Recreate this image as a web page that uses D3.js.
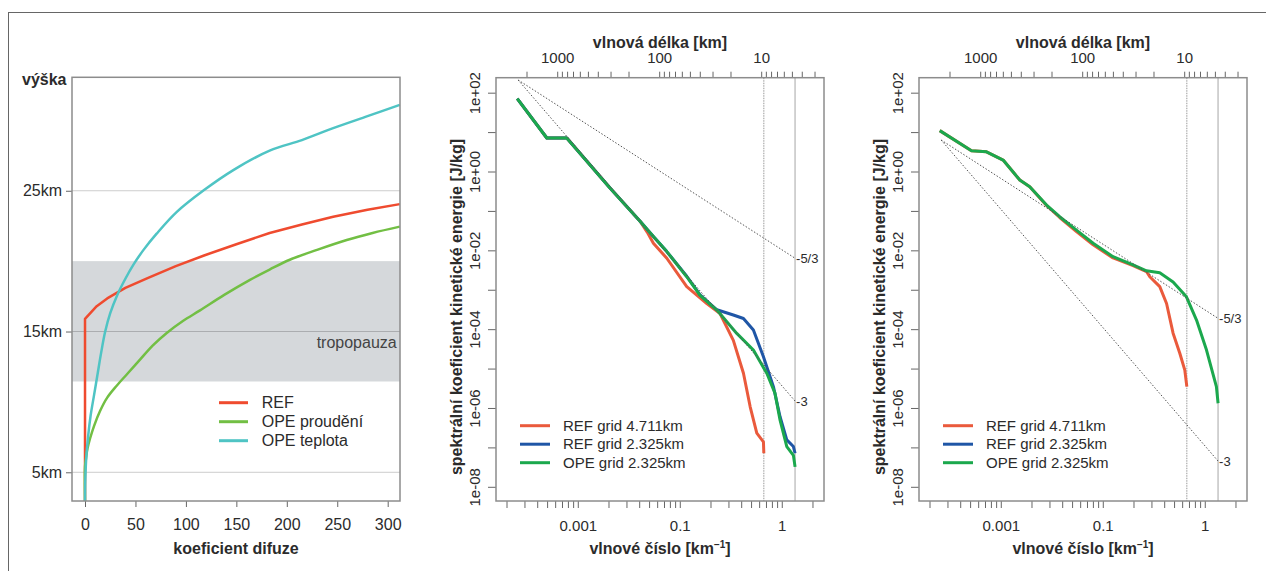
<!DOCTYPE html>
<html>
<head>
<meta charset="utf-8">
<script src="https://cdnjs.cloudflare.com/ajax/libs/d3/7.8.5/d3.min.js"></script>
<style>
body { margin: 0; background: #fff; }
svg { display: block; font-family: "Liberation Sans", Arial, sans-serif; }
text { fill: #2b2b2b; }
</style>
</head>
<body>
<svg width="1266" height="571"></svg>
<script>
// ---- left panel data: [koeficient difuze, vyska km]
var diffTicks = [0, 50, 100, 150, 200, 250, 300];
var heightTicks = [5, 15, 25];
var tropopause = [11.45, 20];

var refDiff = [[0, 2.96], [0, 15.9], [11.6, 16.8], [22, 17.35], [40, 18.1], [62, 18.8], [90, 19.65],
  [118, 20.4], [150, 21.2], [183, 22.0], [215, 22.6], [246, 23.15], [280, 23.65], [312, 24.05]];
var opeFlow = [[0, 2.96], [0, 5.4], [1, 6.0], [2.5, 6.7], [5, 7.4], [9, 8.3], [14.9, 9.35], [22, 10.3],
  [31.4, 11.15], [42, 12.0], [54.5, 13.0], [67, 14.0], [81, 14.9], [97, 15.75], [114, 16.5], [138, 17.6],
  [163.5, 18.67], [183, 19.4], [203, 20.1], [230, 20.8], [259.4, 21.5], [285, 22.0], [312, 22.45]];
var opeTemp = [[0, 2.96], [0.3, 4.5], [1.2, 6], [3, 7.5], [5.5, 9], [9, 10.5], [12.5, 12], [16, 13.5],
  [20, 15], [25, 16.3], [32, 17.6], [40, 18.75], [48, 19.75], [58, 20.8], [71, 21.95], [91, 23.5],
  [118, 25.05], [147, 26.47], [183, 27.85], [215, 28.6], [246, 29.45], [280, 30.3], [312, 31.1]];

// ---- spectra: [vlnove cislo km^-1, energie J/kg]
var kTicks = [0.002, 0.003, 0.004, 0.005, 0.006, 0.007, 0.008, 0.009, 0.01,
  0.02, 0.03, 0.04, 0.05, 0.06, 0.07, 0.08, 0.09, 0.1,
  0.2, 0.3, 0.4, 0.5, 0.6, 0.7, 0.8, 0.9, 1, 2];
var kLabelValues = [0.01, 0.1, 1];
var kLabelText = ["0.001", "0.1", "1"];
var lambdaTicks = [2000, 1000, 900, 800, 700, 600, 500, 400, 300, 200,
  100, 90, 80, 70, 60, 50, 40, 30, 20, 10, 9, 8, 7, 6, 5, 4, 3];
var lambdaLabels = [1000, 100, 10];
var eTicks = [1e2, 1e1, 1e0, 1e-1, 1e-2, 1e-3, 1e-4, 1e-5, 1e-6, 1e-7, 1e-8];
var eLabels = ["1e+02", "", "1e+00", "", "1e-02", "", "1e-04", "", "1e-06", "", "1e-08"];
var gridCutoffs = [0.667, 1.35];
var seriesNames = ["REF grid 4.711km", "REF grid 2.325km", "OPE grid 2.325km"];

var midRef471 = [[0.00255, 70.5], [0.00497, 7.08], [0.0078, 7.08], [0.0207, 0.38], [0.0408, 0.055],
  [0.0479, 0.029], [0.0551, 0.0151], [0.0746, 0.0063], [0.117, 0.0012], [0.184, 4.47e-4], [0.248, 2.5e-4],
  [0.335, 5.2e-5], [0.421, 7.6e-6], [0.49, 1.07e-6], [0.569, 2.3e-7], [0.661, 1.38e-7], [0.667, 7.1e-8]];
var midRef2325 = [[0.00255, 70.5], [0.00497, 7.08], [0.0078, 7.08], [0.0207, 0.38], [0.0408, 0.055],
  [0.0551, 0.0224], [0.0746, 0.0093], [0.117, 0.0022], [0.158, 7.4e-4], [0.231, 3.1e-4], [0.335, 2.29e-4],
  [0.421, 1.86e-4], [0.527, 9.5e-5], [0.661, 2.0e-5], [0.828, 3.47e-6], [0.962, 6.0e-7], [1.12, 1.55e-7],
  [1.30, 1.05e-7], [1.35, 7.1e-8]];
var midOpe2325 = [[0.00255, 70.5], [0.00497, 7.08], [0.0078, 7.08], [0.0207, 0.38], [0.0408, 0.055],
  [0.0551, 0.0224], [0.0746, 0.0093], [0.117, 0.00214], [0.158, 7.2e-4], [0.231, 3.05e-4], [0.362, 7.8e-5],
  [0.527, 2.95e-5], [0.713, 7.6e-6], [0.859, 2.34e-6], [0.962, 4.9e-7], [1.12, 1.05e-7], [1.30, 6.3e-8],
  [1.35, 3.2e-8]];
var midSlope53 = [[0.0026, 210], [1.35, 0.0063]];
var midSlope3 = [[0.0026, 210], [1.35, 1.5e-6]];

var rightRef471 = [[0.00252, 10.9], [0.00516, 3.37], [0.00724, 3.16], [0.01054, 1.95], [0.01535, 0.608],
  [0.01923, 0.411], [0.0281, 0.138], [0.0378, 0.068], [0.0552, 0.030], [0.0804, 0.0138], [0.126, 0.0064],
  [0.198, 0.0041], [0.268, 0.0029], [0.289, 0.00214], [0.362, 0.0012], [0.422, 4.47e-4], [0.489, 7.9e-5],
  [0.569, 2.45e-5], [0.637, 9.1e-6], [0.667, 3.47e-6]];
var rightRef2325 = [];
var rightOpe2325 = [[0.00252, 10.9], [0.00516, 3.37], [0.00724, 3.16], [0.01054, 1.95], [0.01535, 0.608],
  [0.01923, 0.411], [0.0281, 0.141], [0.0378, 0.0713], [0.0552, 0.0327], [0.0804, 0.0151], [0.126, 0.00692],
  [0.198, 0.00427], [0.268, 0.00302], [0.362, 0.00269], [0.489, 0.00158], [0.661, 6.6e-4], [0.83, 1.7e-4],
  [1.04, 2.95e-5], [1.30, 3.47e-6], [1.35, 1.32e-6]];
var rightSlope53 = [[0.0026, 6.3], [1.35, 1.88e-4]];
var rightSlope3 = [[0.0026, 6.3], [1.35, 4.5e-8]];

var ff = '"Liberation Sans", Arial, sans-serif';
var svg = d3.select("svg");

// frame
svg.append("line").attr("x1", 8).attr("x2", 1266).attr("y1", 12.5).attr("y2", 12.5).attr("stroke", "#666");
svg.append("line").attr("x1", 8.5).attr("x2", 8.5).attr("y1", 12).attr("y2", 571).attr("stroke", "#666");

// ================= left panel =================
var lx = d3.scaleLinear().domain([-12.9, 312.2]).range([72, 400]);
var ly = d3.scaleLinear().domain([2.96, 33.06]).range([501, 77.3]);
var g1 = svg.append("g");

g1.append("rect")
  .attr("x", 72).attr("width", 328)
  .attr("y", ly(tropopause[1]))
  .attr("height", ly(tropopause[0]) - ly(tropopause[1]))
  .attr("fill", "#d5d8db");

g1.selectAll(".grid").data(heightTicks).enter().append("line")
  .attr("x1", 72).attr("x2", 400)
  .attr("y1", function(d) { return ly(d); })
  .attr("y2", function(d) { return ly(d); })
  .attr("stroke", "rgba(0,0,0,0.2)");

g1.append("text")
  .attr("x", 396.7).attr("y", 347.5)
  .attr("text-anchor", "end")
  .attr("font-size", 16)
  .style("fill", "#444")
  .text("tropopauza");

var lineStraight = d3.line()
  .x(function(d) { return lx(d[0]); })
  .y(function(d) { return ly(d[1]); });
var lineSmooth = d3.line()
  .x(function(d) { return lx(d[0]); })
  .y(function(d) { return ly(d[1]); })
  .curve(d3.curveCatmullRom.alpha(0.5));
var leftSeries = [
  {data: refDiff, color: "#ef4b2f", name: "REF"},
  {data: opeFlow, color: "#72bf44", name: "OPE proudění"},
  {data: opeTemp, color: "#4fc4c4", name: "OPE teplota"}
];
g1.selectAll(".curve").data(leftSeries).enter().append("path")
  .attr("d", function(d, i) { return i == 0 ? lineStraight(d.data) : lineSmooth(d.data); })
  .attr("fill", "none")
  .attr("stroke", function(d) { return d.color; })
  .attr("stroke-width", 2.5)
  .attr("stroke-linejoin", "round");

g1.append("g")
  .attr("transform", "translate(0,501)")
  .call(d3.axisBottom(lx).tickValues(diffTicks).tickSize(6).tickPadding(12))
  .call(function(a) { a.select(".domain").remove(); })
  .attr("font-family", ff).attr("font-size", 16)
  .call(function(a) { a.selectAll("line").attr("stroke", "#666"); });

g1.append("g")
  .attr("transform", "translate(72,0)")
  .call(d3.axisLeft(ly).tickValues(heightTicks).tickSize(6).tickPadding(4)
    .tickFormat(function(d) { return d + "km"; }))
  .call(function(a) { a.select(".domain").remove(); })
  .attr("font-family", ff).attr("font-size", 16)
  .call(function(a) { a.selectAll("line").attr("stroke", "#666"); });

g1.append("rect").attr("x", 72).attr("y", 77.3).attr("width", 328).attr("height", 423.7)
  .attr("fill", "none").attr("stroke", "#8c8c8c").attr("stroke-width", 1.5);

g1.append("text").attr("x", 22).attr("y", 85)
  .attr("font-size", 16).attr("font-weight", "bold").text("výška");
g1.append("text").attr("x", 236).attr("y", 553.7).attr("text-anchor", "middle")
  .attr("font-size", 16).attr("font-weight", "bold").text("koeficient difuze");

var leg1 = g1.selectAll(".leg").data(leftSeries).enter().append("g")
  .attr("transform", function(d, i) { return "translate(0," + (402.7 + i * 19) + ")"; });
leg1.append("line").attr("x1", 219).attr("x2", 248)
  .attr("stroke", function(d) { return d.color; }).attr("stroke-width", 3);
leg1.append("text").attr("x", 261.7).attr("dy", "0.35em").attr("font-size", 16)
  .text(function(d) { return d.name; });

// ================= spectrum panels =================
var kDomain = [Math.pow(10, -2.802), Math.pow(10, 0.414)];
var eDomain = [Math.pow(10, -8.36), Math.pow(10, 2.38)];
var boxTop = 77.7, boxBottom = 501, boxW = 328;
var colors = ["#ea5a3c", "#1f56a6", "#1ba84d"];

function spectrum(left, series, slope53, slope3) {
  var g = svg.append("g");
  var x = d3.scaleLog().domain(kDomain).range([left, left + boxW]);
  var y = d3.scaleLog().domain(eDomain).range([boxBottom, boxTop]);
  var xl = d3.scaleLog().domain([2 * Math.PI / kDomain[0], 2 * Math.PI / kDomain[1]]).range([left, left + boxW]);
  var line = d3.line().x(function(d) { return x(d[0]); }).y(function(d) { return y(d[1]); });

  // cutoff verticals
  g.selectAll(".cut").data(gridCutoffs).enter().append("line")
    .attr("x1", function(d) { return x(d); }).attr("x2", function(d) { return x(d); })
    .attr("y1", boxTop).attr("y2", boxBottom)
    .attr("stroke", function(d, i) { return i == 0 ? "#999" : "#c8c8c8"; })
    .attr("stroke-width", function(d, i) { return i == 0 ? 1 : 1.6; })
    .attr("stroke-dasharray", function(d, i) { return i == 0 ? "1.5,1" : null; });

  g.selectAll(".curve").data(series).enter().append("path")
    .attr("d", function(d) { return d.length ? line(d) : null; })
    .attr("fill", "none")
    .attr("stroke", function(d, i) { return colors[i]; })
    .attr("stroke-width", 3)
    .attr("stroke-linejoin", "round");

  // reference slopes
  [slope53, slope3].forEach(function(s, i) {
    g.append("path").attr("d", line(s))
      .attr("fill", "none").attr("stroke", "#555").attr("stroke-width", 1)
      .attr("stroke-dasharray", "1.5,1.8");
    g.append("text")
      .attr("x", x(s[1][0]) + 1).attr("y", y(s[1][1]))
      .attr("dy", "0.35em").attr("font-size", 13)
      .text(i == 0 ? "-5/3" : "-3");
  });

  g.append("g")
    .attr("transform", "translate(0," + boxBottom + ")")
    .call(d3.axisBottom(x).tickValues(kTicks).tickSize(7).tickPadding(12)
      .tickFormat(function(d) { var i = kLabelValues.indexOf(d); return i >= 0 ? kLabelText[i] : ""; }))
    .call(function(a) { a.select(".domain").remove(); })
    .attr("font-family", ff).attr("font-size", 15)
    .call(function(a) { a.selectAll("line").attr("stroke", "#666"); });

  g.append("g")
    .attr("transform", "translate(0," + boxTop + ")")
    .call(d3.axisTop(xl).tickValues(lambdaTicks).tickSize(6).tickPadding(9)
      .tickFormat(function(d) { return lambdaLabels.indexOf(d) >= 0 ? d : ""; }))
    .call(function(a) { a.select(".domain").remove(); })
    .attr("font-family", ff).attr("font-size", 15)
    .call(function(a) { a.selectAll("line").attr("stroke", "#666"); });

  var ya = g.append("g")
    .attr("transform", "translate(" + left + ",0)")
    .call(d3.axisLeft(y).tickValues(eTicks).tickSize(8)
      .tickFormat(function(d, i) { return eLabels[i]; }))
    .call(function(a) { a.select(".domain").remove(); })
    .attr("font-family", ff).attr("font-size", 15)
    .call(function(a) { a.selectAll("line").attr("stroke", "#666"); });
  ya.selectAll("text")
    .attr("transform", "rotate(-90)")
    .attr("x", 0).attr("y", -15.6).attr("dy", null)
    .attr("text-anchor", "middle");

  g.append("rect").attr("x", left).attr("y", boxTop).attr("width", boxW).attr("height", boxBottom - boxTop)
    .attr("fill", "none").attr("stroke", "#8c8c8c").attr("stroke-width", 1.5);

  // titles
  g.append("text").attr("x", left + boxW / 2).attr("y", 47.7).attr("text-anchor", "middle")
    .attr("font-size", 16).attr("font-weight", "bold").text("vlnová délka [km]");
  var bt = g.append("text").attr("x", left + boxW / 2).attr("y", 553.7).attr("text-anchor", "middle")
    .attr("font-size", 16).attr("font-weight", "bold");
  bt.append("tspan").text("vlnové číslo [km");
  bt.append("tspan").attr("font-size", 10).attr("dy", -6).text("−1");
  bt.append("tspan").attr("dy", 6).text("]");
  g.append("text")
    .attr("transform", "translate(" + (left - 40) + ",307) rotate(-90)")
    .attr("text-anchor", "middle").attr("dy", "0.35em")
    .attr("font-size", 16).attr("font-weight", "bold")
    .text("spektrální koeficient kinetické energie [J/kg]");

  // legend
  var leg = g.selectAll(".leg").data(seriesNames).enter().append("g")
    .attr("transform", function(d, i) { return "translate(" + left + "," + (425.7 + i * 18.5) + ")"; });
  leg.append("line").attr("x1", 24).attr("x2", 54)
    .attr("stroke", function(d, i) { return colors[i]; }).attr("stroke-width", 3);
  leg.append("text").attr("x", 67).attr("dy", "0.35em").attr("font-size", 15)
    .text(function(d) { return d; });
}

spectrum(496, [midRef471, midRef2325, midOpe2325], midSlope53, midSlope3);
spectrum(919, [rightRef471, rightRef2325, rightOpe2325], rightSlope53, rightSlope3);
</script>
</body>
</html>
